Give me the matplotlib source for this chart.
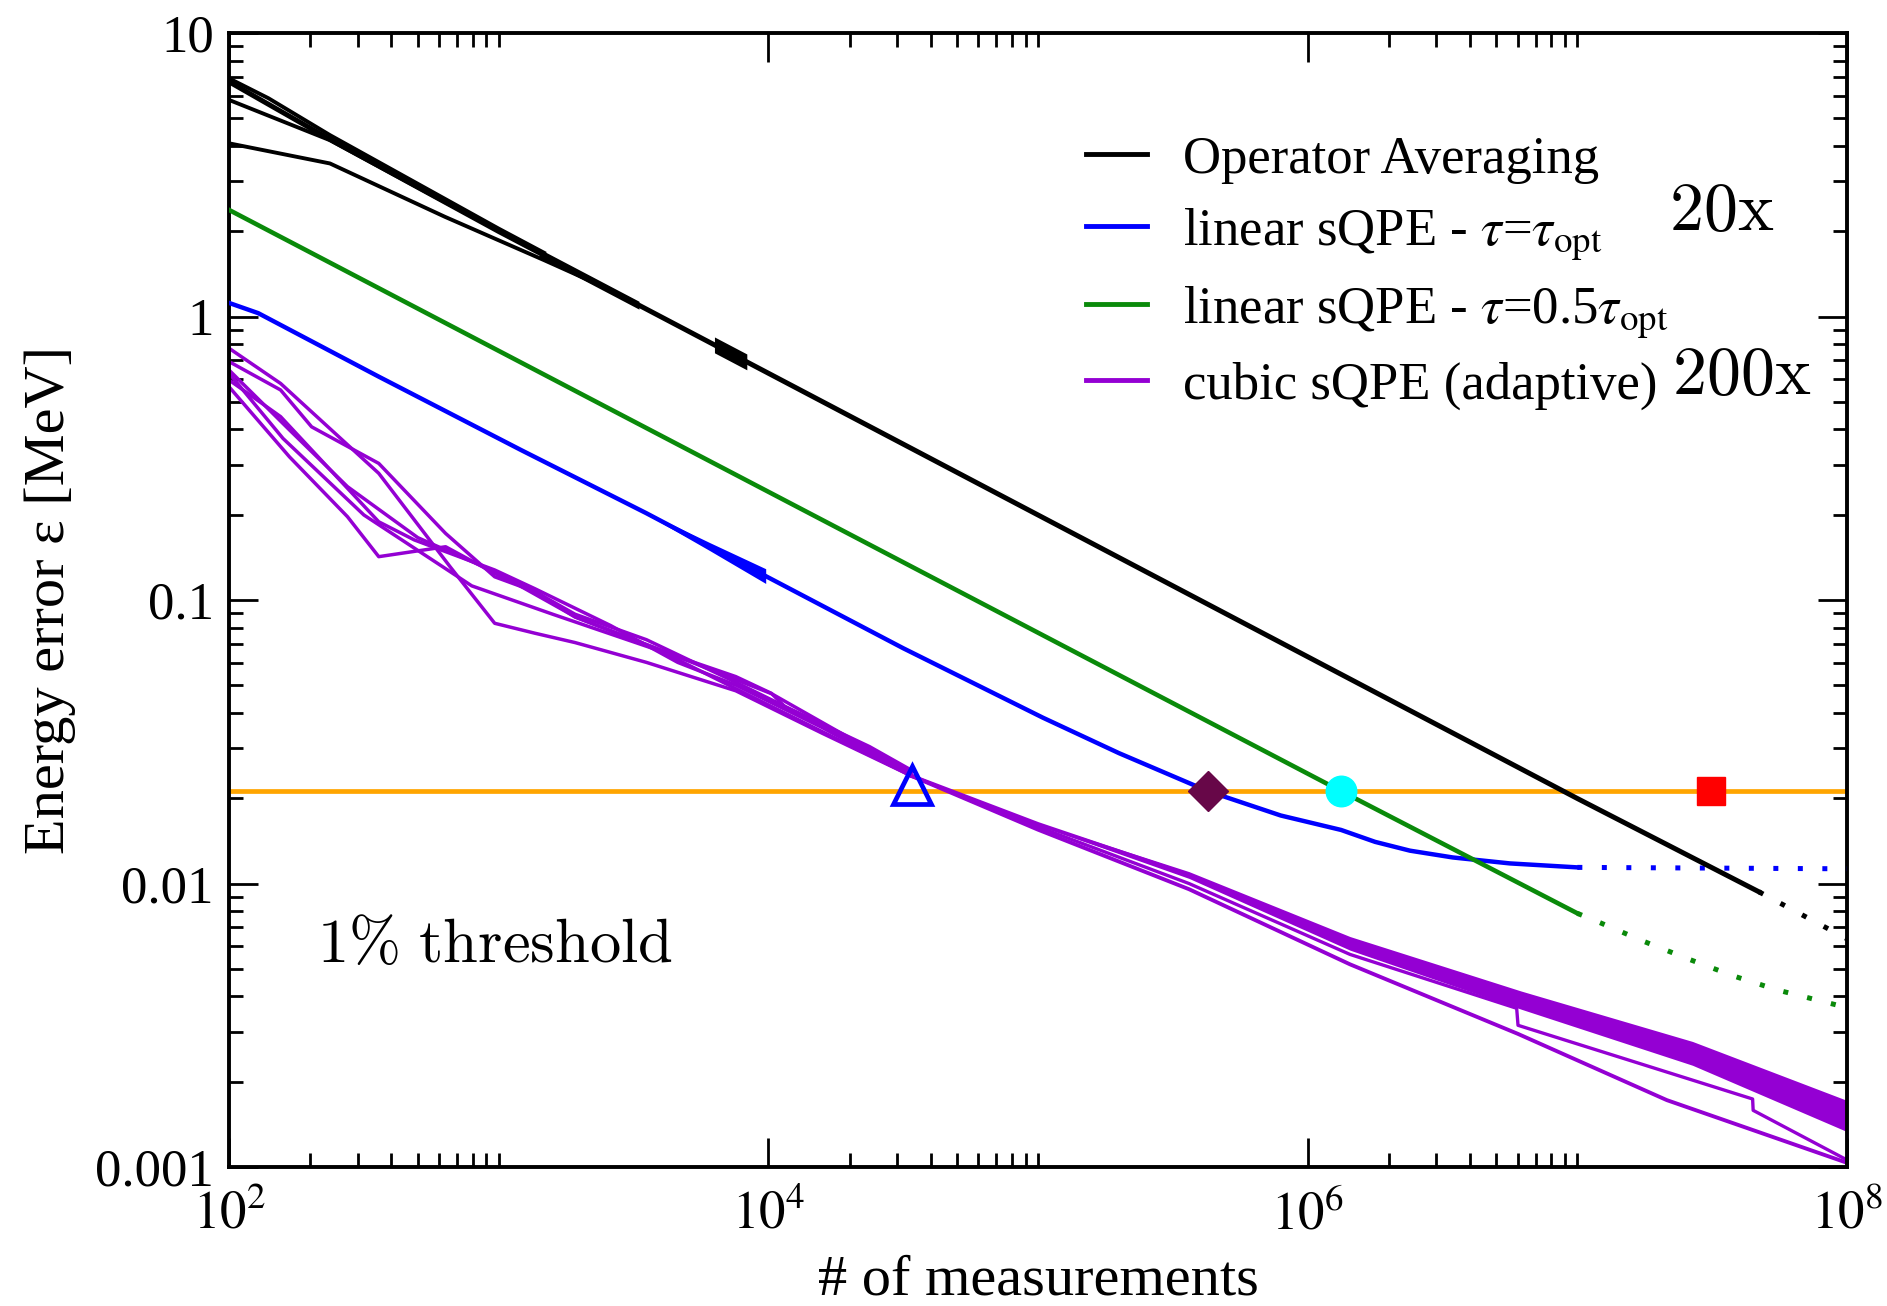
import numpy as np
import matplotlib
matplotlib.use("Agg")
from matplotlib import pyplot as plt
from matplotlib.lines import Line2D

plt.rcParams.update({
    "font.family": "Liberation Serif",
    "mathtext.fontset": "stix",
    "axes.linewidth": 2.8,
})

# all values below are log10 of (# of measurements) and log10 of (energy error in MeV)
# ---- Operator Averaging (black)
op_main_lgN = [2.0, 2.374, 3.0, 4.0, 5.0, 6.0, 7.0, 7.673]
op_main_lgE = [0.828, 0.625, 0.30, -0.20, -0.70, -1.20, -1.70, -2.029]
op_b2_lgN = [2.0, 2.146, 2.374, 3.0, 3.168]
op_b2_lgE = [0.840, 0.770, 0.640, 0.31, 0.225]
op_b3_lgN = [2.0, 2.374, 2.778, 3.168]
op_b3_lgE = [0.764, 0.622, 0.415, 0.220]
op_b4_lgN = [2.0, 2.374, 2.80, 3.168, 3.40]
op_b4_lgE = [0.611, 0.540, 0.352, 0.199, 0.10]
op_dot_lgN = [7.673, 8.0]
op_dot_lgE = [-2.029, -2.195]
# noisy stretches of the black curve: start, end, half width (log10)
op_noise = [(3.15, 3.52, 0.014), (3.80, 3.92, 0.028)]

# ---- linear sQPE tau = tau_opt (blue)
lin_lgN = [2.0, 2.108, 2.555, 3.083, 3.546, 3.995, 4.5, 5.018, 5.30, 5.63, 5.90,
           6.124, 6.25, 6.379, 6.538, 6.75, 7.0]
lin_lgE = [0.048, 0.012, -0.212, -0.471, -0.693, -0.918, -1.17, -1.415, -1.54, -1.674, -1.76,
           -1.811, -1.853, -1.884, -1.908, -1.929, -1.943]
lin_dot_lgN = [7.0, 8.0]
lin_dot_lgE = [-1.943, -1.948]
lin_noise_lgN = [3.55, 3.78, 3.99]
lin_noise_hw = [0.004, 0.014, 0.026]

# ---- linear sQPE tau = 0.5 tau_opt (green)
half_lgN = [2.0, 6.124, 7.0]
half_lgE = [0.376, -1.674, -2.105]
half_dot_lgN = [7.0, 7.084, 7.249, 7.414, 7.579, 7.744, 7.985]
half_dot_lgE = [-2.105, -2.138, -2.205, -2.267, -2.326, -2.376, -2.434]

# ---- cubic sQPE adaptive (violet), several runs
cubic_runs = [
    ([2.0, 2.224, 2.439, 2.555, 2.803, 2.985, 3.134, 3.283, 3.548, 3.879, 4.2, 4.53],
     [-0.248, -0.495, -0.706, -0.847, -0.812, -0.906, -0.97, -1.05, -1.14, -1.29, -1.44, -1.62]),
    ([2.0, 2.191, 2.555, 2.687, 2.985, 3.134, 3.415, 3.664, 3.879, 4.2, 4.53],
     [-0.224, -0.353, -0.724, -0.788, -0.894, -0.96, -1.09, -1.22, -1.30, -1.45, -1.62]),
    ([2.0, 2.191, 2.306, 2.555, 2.803, 2.985, 3.134, 3.283, 3.664, 4.011, 4.53],
     [-0.159, -0.259, -0.389, -0.518, -0.765, -0.918, -0.97, -1.06, -1.20, -1.33, -1.61]),
    ([2.0, 2.191, 2.555, 2.82, 2.985, 3.134, 3.283, 3.548, 3.879, 4.2, 4.53],
     [-0.112, -0.236, -0.553, -0.883, -1.082, -1.117, -1.15, -1.22, -1.32, -1.47, -1.62]),
    ([2.0, 2.224, 2.439, 2.7, 2.985, 3.283, 3.664, 3.879, 4.011, 4.061, 4.375, 4.53],
     [-0.189, -0.40, -0.60, -0.78, -0.90, -1.059, -1.20, -1.27, -1.329, -1.376, -1.517, -1.60]),
    ([2.0, 2.2, 2.5, 2.9, 3.2, 3.6, 4.0, 4.53],
     [-0.20, -0.43, -0.70, -0.95, -1.05, -1.18, -1.37, -1.62]),
]
cubic_l1_lgN = [4.53, 5.0, 5.56, 6.157, 6.779, 7.332, 8.0]
cubic_l1_lgE = [-1.62, -1.81, -2.02, -2.285, -2.53, -2.764, -2.985]
cubic_l2_lgN = [4.53, 5.0, 5.56, 6.157, 6.775, 6.78, 7.65, 7.652, 8.0]
cubic_l2_lgE = [-1.62, -1.80, -2.0, -2.25, -2.44, -2.50, -2.76, -2.80, -2.975]
cubic_band_lgN = [4.53, 5.0, 5.56, 6.157, 6.791, 7.427, 8.0]
cubic_band_lgE = [-1.62, -1.79, -1.97, -2.211, -2.411, -2.599, -2.82]
cubic_band_hw = [0.0, 0.004, 0.012, 0.024, 0.032, 0.042, 0.055]

# ---- 1% threshold and crossing markers
threshold = 0.0212
mark_tri = (3.40e4, 0.0222)
mark_dia = (4.27e5, 0.0212)
mark_circ = (1.33e6, 0.0212)
mark_sq = (3.14e7, 0.0212)

xticks = [1e2, 1e4, 1e6, 1e8]
xticklabels = [r"$10^{2}$", r"$10^{4}$", r"$10^{6}$", r"$10^{8}$"]
yticks = [1e-3, 1e-2, 1e-1, 1, 10]
yticklabels = ["0.001", "0.01", "0.1", "1", "10"]

legend_labels = ["Operator Averaging",
                 r"linear sQPE - $\tau$=$\tau_{\rm opt}$",
                 r"linear sQPE - $\tau$=0.5$\tau_{\rm opt}$",
                 "cubic sQPE (adaptive)"]

BLACK, BLUE, GREEN, VIOLET = "black", "#0000ff", "#0a8a0a", "#9400d3"
ORANGE = "#ffa500"
DOTS = (0, (1.0, 3.9))


def p(a):
    return 10 ** np.asarray(a, dtype=float)


fig = plt.figure(figsize=(18.87, 13.06), dpi=100)
ax = fig.add_axes([0.1214, 0.1064, 0.8574, 0.8683])
ax.set_xscale("log")
ax.set_yscale("log")

# threshold
ax.axhline(threshold, color=ORANGE, lw=3.4, zorder=1)

# cubic (violet)
for lgN, lgE in cubic_runs:
    ax.plot(p(lgN), p(lgE), color=VIOLET, lw=2.5, zorder=2)
ax.plot(p(cubic_l1_lgN), p(cubic_l1_lgE), color=VIOLET, lw=2.8, zorder=2)
ax.plot(p(cubic_l2_lgN), p(cubic_l2_lgE), color=VIOLET, lw=2.4, zorder=2)
bc = np.asarray(cubic_band_lgE)
bh = np.asarray(cubic_band_hw)
ax.fill_between(p(cubic_band_lgN), p(bc - bh), p(bc + bh), color=VIOLET, lw=0, zorder=2)
ax.plot(p(cubic_band_lgN), p(cubic_band_lgE), color=VIOLET, lw=2.8, zorder=2)

# linear tau_opt (blue)
ax.plot(p(lin_lgN), p(lin_lgE), color=BLUE, lw=3.2, zorder=3)
ax.plot(p(lin_dot_lgN), p(lin_dot_lgE), color=BLUE, lw=3.6, ls=DOTS,
        dash_capstyle="butt", zorder=3)
nc = np.interp(lin_noise_lgN, lin_lgN, lin_lgE)
nh = np.asarray(lin_noise_hw)
ax.fill_between(p(lin_noise_lgN), p(nc - nh), p(nc + nh), color=BLUE, lw=0, zorder=3)

# linear 0.5 tau_opt (green)
ax.plot(p(half_lgN), p(half_lgE), color=GREEN, lw=3.3, zorder=3)
ax.plot(p(half_dot_lgN), p(half_dot_lgE), color=GREEN, lw=3.6, ls=DOTS,
        dash_capstyle="butt", zorder=3)

# operator averaging (black)
ax.plot(p(op_main_lgN), p(op_main_lgE), color=BLACK, lw=3.6, zorder=4)
for lgN, lgE in [(op_b2_lgN, op_b2_lgE), (op_b3_lgN, op_b3_lgE), (op_b4_lgN, op_b4_lgE)]:
    ax.plot(p(lgN), p(lgE), color=BLACK, lw=2.8, zorder=4)
ax.plot(p(op_dot_lgN), p(op_dot_lgE), color=BLACK, lw=3.6, ls=DOTS,
        dash_capstyle="butt", zorder=4)
for a, b, hw in op_noise:
    xs = [a, b]
    c = np.interp(xs, op_main_lgN, op_main_lgE)
    ax.fill_between(p(xs), p(c - hw), p(c + hw), color=BLACK, lw=0, zorder=4)

# markers
ax.plot(*mark_tri, marker="^", ms=28, mfc="none", mec=BLUE, mew=3.4, zorder=6)
ax.plot(*mark_dia, marker="D", ms=20, mfc="#670748", mec="#670748", zorder=6)
ax.plot(*mark_circ, marker="o", ms=22, mfc="#00ffff", mec="#00ffff", zorder=6)
ax.plot(*mark_sq, marker="s", ms=20, mfc="#ff0000", mec="#ff0000", zorder=6)

# axes
ax.set_xlim(1e2, 1e8)
ax.set_ylim(1e-3, 10)
ax.set_xticks(xticks)
ax.set_xticklabels(xticklabels)
xminor = [m * 10.0 ** d for d in (2, 4, 6) for m in range(2, 11)]
ax.set_xticks(xminor, minor=True)
ax.set_xticklabels([], minor=True)
ax.set_yticks(yticks)
ax.set_yticklabels(yticklabels)
yminor = [m * 10.0 ** d for d in range(-3, 1) for m in range(2, 10)]
ax.set_yticks(yminor, minor=True)
ax.set_yticklabels([], minor=True)
ax.tick_params(which="both", direction="in", top=True, right=True, width=2.0, labelsize=38)
ax.tick_params(which="major", length=21, pad=11)
ax.tick_params(which="minor", length=10)
ax.tick_params(axis="x", which="major", pad=17)

ax.set_xlabel("# of measurements", fontsize=42, labelpad=10)
ax.set_ylabel("Energy error ε [MeV]", fontsize=42, labelpad=14)

# legend
handles = [Line2D([], [], color=c, lw=3.5) for c in (BLACK, BLUE, GREEN, VIOLET)]
ax.legend(handles, legend_labels, loc="upper left", bbox_to_anchor=(0.5165, 0.928),
          frameon=False, fontsize=38, handlelength=1.15, handletextpad=0.7,
          labelspacing=0.42, borderaxespad=0)

ax.text(0.9225, 0.841, r"$\mathrm{20x}$", transform=ax.transAxes, fontsize=49,
        math_fontfamily="cm", ha="center", va="center")
ax.text(0.935, 0.696, r"$\mathrm{200x}$", transform=ax.transAxes, fontsize=49,
        math_fontfamily="cm", ha="center", va="center")
ax.text(0.164, 0.194, r"$\mathrm{1\%\ threshold}$", transform=ax.transAxes, fontsize=45,
        math_fontfamily="cm", ha="center", va="center")

fig.savefig("out.png", dpi=100)
